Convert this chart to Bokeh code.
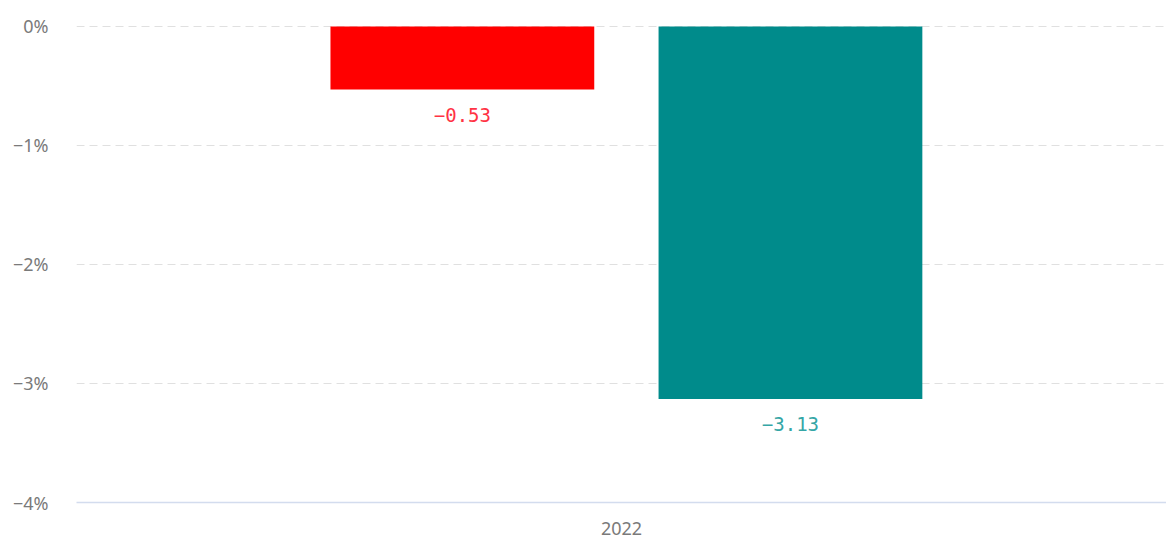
from bokeh.plotting import figure
from bokeh.models import ColumnDataSource, FactorRange, Range1d, FixedTicker
from bokeh.transform import dodge
from bokeh.core.properties import value
from bokeh.embed import file_html
from bokeh.resources import INLINE

years = ["2022"]
series_a = [-0.53]
series_b = [-3.13]
y_ticks = [0, -1, -2, -3, -4]
y_tick_labels = ["0%", "\u22121%", "\u22122%", "\u22123%", "\u22124%"]

def fmt(v):
    return ("\u2212" if v < 0 else "") + "%.2f" % abs(v)

src = ColumnDataSource(dict(
    year=years,
    a=series_a,
    b=series_b,
    a_lbl=[fmt(v) for v in series_a],
    b_lbl=[fmt(v) for v in series_b],
))

p = figure(width=1166, height=539, output_backend="svg", toolbar_location=None,
           x_range=FactorRange(*years, range_padding=0),
           y_range=Range1d(-4, 0.218),
           min_border_left=76, min_border_right=0, min_border_top=0, min_border_bottom=37)
p.outline_line_color = None

bw = 0.242
p.vbar(x=dodge("year", -0.146, range=p.x_range), top="a", bottom=0, width=bw,
       source=src, fill_color="#ff0000", line_color=None)
p.vbar(x=dodge("year", 0.155, range=p.x_range), top="b", bottom=0, width=bw,
       source=src, fill_color="#008b8b", line_color=None)

p.text(x=dodge("year", -0.146, range=p.x_range), y="a", text="a_lbl", source=src,
       text_align="center", text_baseline="top", y_offset=18,
       text_font=value("DejaVu Sans Mono"), text_font_size="19px", text_color="#ff3344")
p.text(x=dodge("year", 0.155, range=p.x_range), y="b", text="b_lbl", source=src,
       text_align="center", text_baseline="top", y_offset=18,
       text_font=value("DejaVu Sans Mono"), text_font_size="19px", text_color="#35a6a6")

p.yaxis.ticker = FixedTicker(ticks=y_ticks)
p.yaxis.major_label_overrides = {t: l for t, l in zip(y_ticks, y_tick_labels)}
p.yaxis.axis_line_color = None
p.yaxis.major_tick_line_color = None
p.yaxis.minor_tick_line_color = None
p.yaxis.major_tick_out = 0
p.yaxis.major_label_standoff = 28
p.yaxis.major_label_text_font = "Noto Sans"
p.yaxis.major_label_text_font_size = "18px"
p.yaxis.major_label_text_color = "#7a7a7a"

p.xaxis.axis_line_color = "#d3dcee"
p.xaxis.axis_line_width = 1.5
p.xaxis.major_tick_line_color = None
p.xaxis.major_tick_out = 0
p.xaxis.major_label_standoff = 19
p.xaxis.major_label_text_font = "Noto Sans"
p.xaxis.major_label_text_font_size = "18px"
p.xaxis.major_label_text_color = "#7a7a7a"

p.xgrid.grid_line_color = None
p.ygrid.grid_line_color = "#e0e0e0"
p.ygrid.grid_line_dash = "8 5"
p.ygrid.grid_line_width = 1

open("out.html", "w").write(file_html(p, INLINE))
